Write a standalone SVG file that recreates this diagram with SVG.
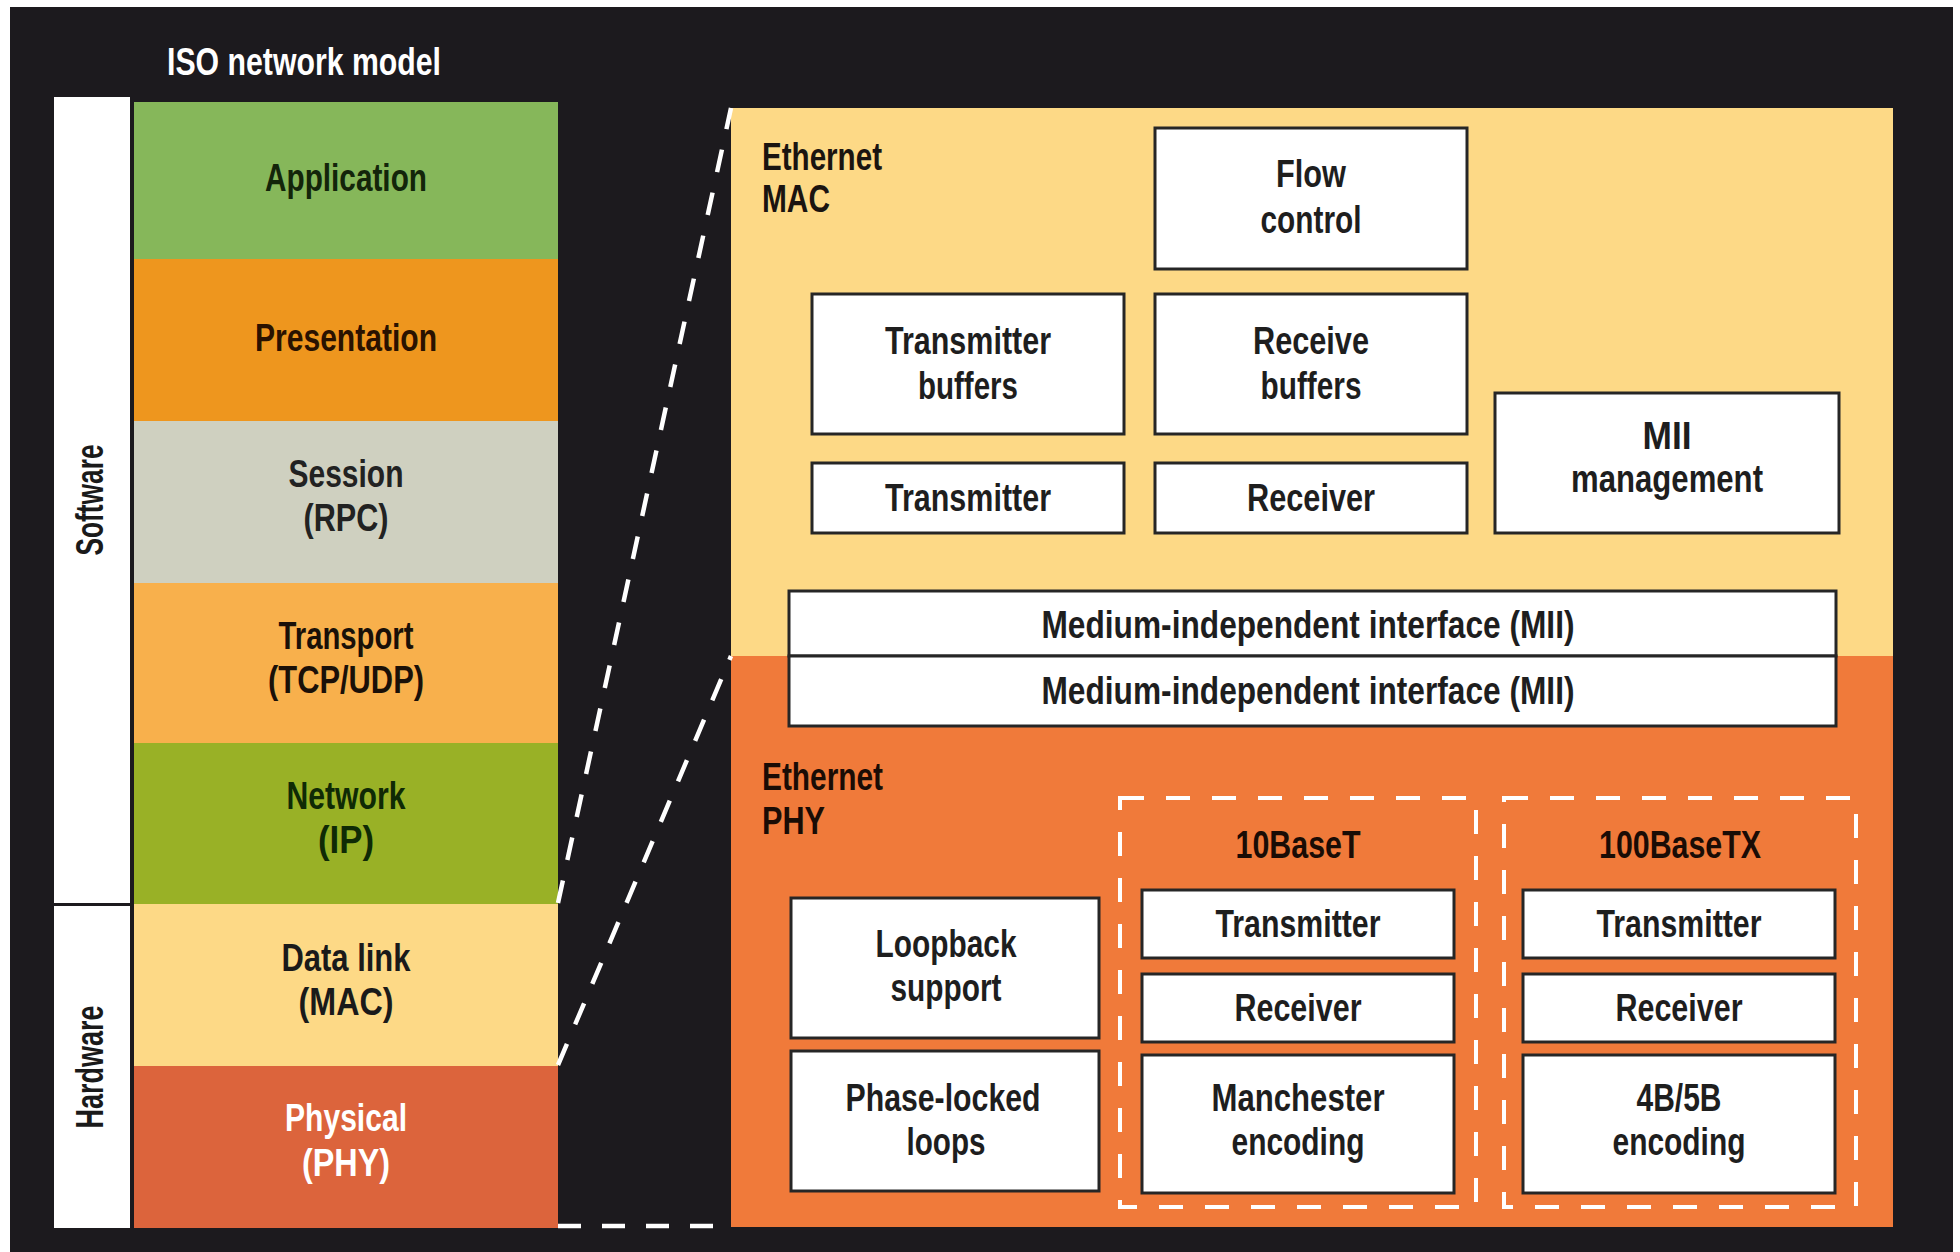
<svg xmlns="http://www.w3.org/2000/svg" width="1960" height="1252" viewBox="0 0 1960 1252">
<style>
text{font-family:"Liberation Sans",Arial,sans-serif;font-weight:bold;font-size:39px;text-anchor:middle}
.l{text-anchor:start}
.box{fill:#ffffff;stroke:#262626;stroke-width:3}
.bt{fill:#1e1e1e}
.dash{fill:none;stroke:#ffffff;stroke-width:4.5;stroke-dasharray:23 21}
.dbox{fill:none;stroke:#ffffff;stroke-width:4;stroke-dasharray:24 22}
</style>
<rect x="0" y="0" width="1960" height="1252" fill="#ffffff"/>
<rect x="10" y="7" width="1943" height="1245" fill="#1c1a1e"/>
<text x="304" y="75" fill="#ffffff" font-size="42" textLength="274" lengthAdjust="spacingAndGlyphs">ISO network model</text>

<g id="sidebar">
<rect x="54" y="97" width="76" height="806" fill="#ffffff"/>
<rect x="54" y="906" width="76" height="322" fill="#ffffff"/>
<text transform="translate(103,500) rotate(-90)" fill="#1a1a1a" font-size="40" textLength="111" lengthAdjust="spacingAndGlyphs">Software</text>
<text transform="translate(103,1067) rotate(-90)" fill="#1a1a1a" font-size="40" textLength="123" lengthAdjust="spacingAndGlyphs">Hardware</text>
</g>

<g id="layer-application">
<rect x="134" y="102" width="424" height="157" fill="#86b75a"/>
<text x="346" y="191" fill="#13250a" textLength="162" lengthAdjust="spacingAndGlyphs">Application</text>
</g>
<g id="layer-presentation">
<rect x="134" y="259" width="424" height="162" fill="#ee961e"/>
<text x="346" y="351" fill="#2a1200" textLength="182" lengthAdjust="spacingAndGlyphs">Presentation</text>
</g>
<g id="layer-session">
<rect x="134" y="421" width="424" height="162" fill="#cfd0c0"/>
<text x="346" y="487" fill="#222222" textLength="115" lengthAdjust="spacingAndGlyphs">Session</text>
<text x="346" y="531" fill="#222222" textLength="85" lengthAdjust="spacingAndGlyphs">(RPC)</text>
</g>
<g id="layer-transport">
<rect x="134" y="583" width="424" height="160" fill="#f8b04c"/>
<text x="346" y="649" fill="#1a1008" textLength="135" lengthAdjust="spacingAndGlyphs">Transport</text>
<text x="346" y="693" fill="#1a1008" textLength="156" lengthAdjust="spacingAndGlyphs">(TCP/UDP)</text>
</g>
<g id="layer-network">
<rect x="134" y="743" width="424" height="161" fill="#99b126"/>
<text x="346" y="809" fill="#0f2a05" textLength="119" lengthAdjust="spacingAndGlyphs">Network</text>
<text x="346" y="853" fill="#0f2a05" textLength="56" lengthAdjust="spacingAndGlyphs">(IP)</text>
</g>
<g id="layer-datalink">
<rect x="134" y="904" width="424" height="162" fill="#fdd986"/>
<text x="346" y="971" fill="#1a1a1a" textLength="129" lengthAdjust="spacingAndGlyphs">Data link</text>
<text x="346" y="1015" fill="#1a1a1a" textLength="95" lengthAdjust="spacingAndGlyphs">(MAC)</text>
</g>
<g id="layer-physical">
<rect x="134" y="1066" width="424" height="162" fill="#dc643c"/>
<text x="346" y="1131" fill="#ffffff" textLength="122" lengthAdjust="spacingAndGlyphs">Physical</text>
<text x="346" y="1176" fill="#ffffff" textLength="88" lengthAdjust="spacingAndGlyphs">(PHY)</text>
</g>

<g id="ethernet-mac">
<rect x="731" y="108" width="1162" height="548" fill="#fdd986"/>
<text class="l" x="762" y="170" fill="#1a1410" font-size="37" textLength="120" lengthAdjust="spacingAndGlyphs">Ethernet</text>
<text class="l" x="762" y="212" fill="#1a1410" font-size="37" textLength="68" lengthAdjust="spacingAndGlyphs">MAC</text>
</g>
<g id="ethernet-phy">
<rect x="731" y="656" width="1162" height="571" fill="#f07a3a"/>
<text class="l" x="762" y="790" fill="#1a0c05" textLength="121" lengthAdjust="spacingAndGlyphs">Ethernet</text>
<text class="l" x="762" y="834" fill="#1a0c05" textLength="63" lengthAdjust="spacingAndGlyphs">PHY</text>
</g>

<g id="flow-control">
<rect class="box" x="1155" y="128" width="312" height="141"/>
<text class="bt" x="1311" y="187" textLength="70" lengthAdjust="spacingAndGlyphs">Flow</text>
<text class="bt" x="1311" y="233" textLength="101" lengthAdjust="spacingAndGlyphs">control</text>
</g>
<g id="tx-buffers">
<rect class="box" x="812" y="294" width="312" height="140"/>
<text class="bt" x="968" y="354" textLength="166" lengthAdjust="spacingAndGlyphs">Transmitter</text>
<text class="bt" x="968" y="399" textLength="100" lengthAdjust="spacingAndGlyphs">buffers</text>
</g>
<g id="rx-buffers">
<rect class="box" x="1155" y="294" width="312" height="140"/>
<text class="bt" x="1311" y="354" textLength="116" lengthAdjust="spacingAndGlyphs">Receive</text>
<text class="bt" x="1311" y="399" textLength="101" lengthAdjust="spacingAndGlyphs">buffers</text>
</g>
<g id="mac-tx">
<rect class="box" x="812" y="463" width="312" height="70"/>
<text class="bt" x="968" y="511" textLength="166" lengthAdjust="spacingAndGlyphs">Transmitter</text>
</g>
<g id="mac-rx">
<rect class="box" x="1155" y="463" width="312" height="70"/>
<text class="bt" x="1311" y="511" textLength="128" lengthAdjust="spacingAndGlyphs">Receiver</text>
</g>
<g id="mii-management">
<rect class="box" x="1495" y="393" width="344" height="140"/>
<text class="bt" x="1667" y="449" textLength="49" lengthAdjust="spacingAndGlyphs">MII</text>
<text class="bt" x="1667" y="492" textLength="192" lengthAdjust="spacingAndGlyphs">management</text>
</g>
<g id="mii-mac">
<rect class="box" x="789" y="591" width="1047" height="65"/>
<text class="bt" x="1308" y="638" textLength="533" lengthAdjust="spacingAndGlyphs">Medium-independent interface (MII)</text>
</g>
<g id="mii-phy">
<rect class="box" x="789" y="656" width="1047" height="70"/>
<text class="bt" x="1308" y="704" textLength="533" lengthAdjust="spacingAndGlyphs">Medium-independent interface (MII)</text>
</g>

<g id="loopback">
<rect class="box" x="791" y="898" width="308" height="140"/>
<text class="bt" x="946" y="957" textLength="141" lengthAdjust="spacingAndGlyphs">Loopback</text>
<text class="bt" x="946" y="1001" textLength="111" lengthAdjust="spacingAndGlyphs">support</text>
</g>
<g id="pll">
<rect class="box" x="791" y="1051" width="308" height="140"/>
<text class="bt" x="943" y="1111" textLength="195" lengthAdjust="spacingAndGlyphs">Phase-locked</text>
<text class="bt" x="946" y="1155" textLength="79" lengthAdjust="spacingAndGlyphs">loops</text>
</g>

<g id="group-10baset">
<rect class="dbox" x="1120" y="798" width="356" height="409"/>
<text x="1298" y="858" fill="#1a0c05" textLength="125" lengthAdjust="spacingAndGlyphs">10BaseT</text>
</g>
<g id="t10-tx">
<rect class="box" x="1142" y="890" width="312" height="68"/>
<text class="bt" x="1298" y="937" textLength="165" lengthAdjust="spacingAndGlyphs">Transmitter</text>
</g>
<g id="t10-rx">
<rect class="box" x="1142" y="974" width="312" height="68"/>
<text class="bt" x="1298" y="1021" textLength="127" lengthAdjust="spacingAndGlyphs">Receiver</text>
</g>
<g id="t10-enc">
<rect class="box" x="1142" y="1055" width="312" height="138"/>
<text class="bt" x="1298" y="1111" textLength="173" lengthAdjust="spacingAndGlyphs">Manchester</text>
<text class="bt" x="1298" y="1155" textLength="133" lengthAdjust="spacingAndGlyphs">encoding</text>
</g>

<g id="group-100basetx">
<rect class="dbox" x="1504" y="798" width="352" height="409"/>
<text x="1680" y="858" fill="#1a0c05" textLength="162" lengthAdjust="spacingAndGlyphs">100BaseTX</text>
</g>
<g id="tx100-tx">
<rect class="box" x="1523" y="890" width="312" height="68"/>
<text class="bt" x="1679" y="937" textLength="165" lengthAdjust="spacingAndGlyphs">Transmitter</text>
</g>
<g id="tx100-rx">
<rect class="box" x="1523" y="974" width="312" height="68"/>
<text class="bt" x="1679" y="1021" textLength="127" lengthAdjust="spacingAndGlyphs">Receiver</text>
</g>
<g id="tx100-enc">
<rect class="box" x="1523" y="1055" width="312" height="138"/>
<text class="bt" x="1679" y="1111" textLength="85" lengthAdjust="spacingAndGlyphs">4B/5B</text>
<text class="bt" x="1679" y="1155" textLength="133" lengthAdjust="spacingAndGlyphs">encoding</text>
</g>

<g id="connectors">
<line class="dash" x1="558" y1="903" x2="731" y2="108"/>
<line class="dash" x1="558" y1="1065" x2="731" y2="656"/>
<line class="dash" x1="558" y1="1226" x2="731" y2="1226"/>
</g>
</svg>
